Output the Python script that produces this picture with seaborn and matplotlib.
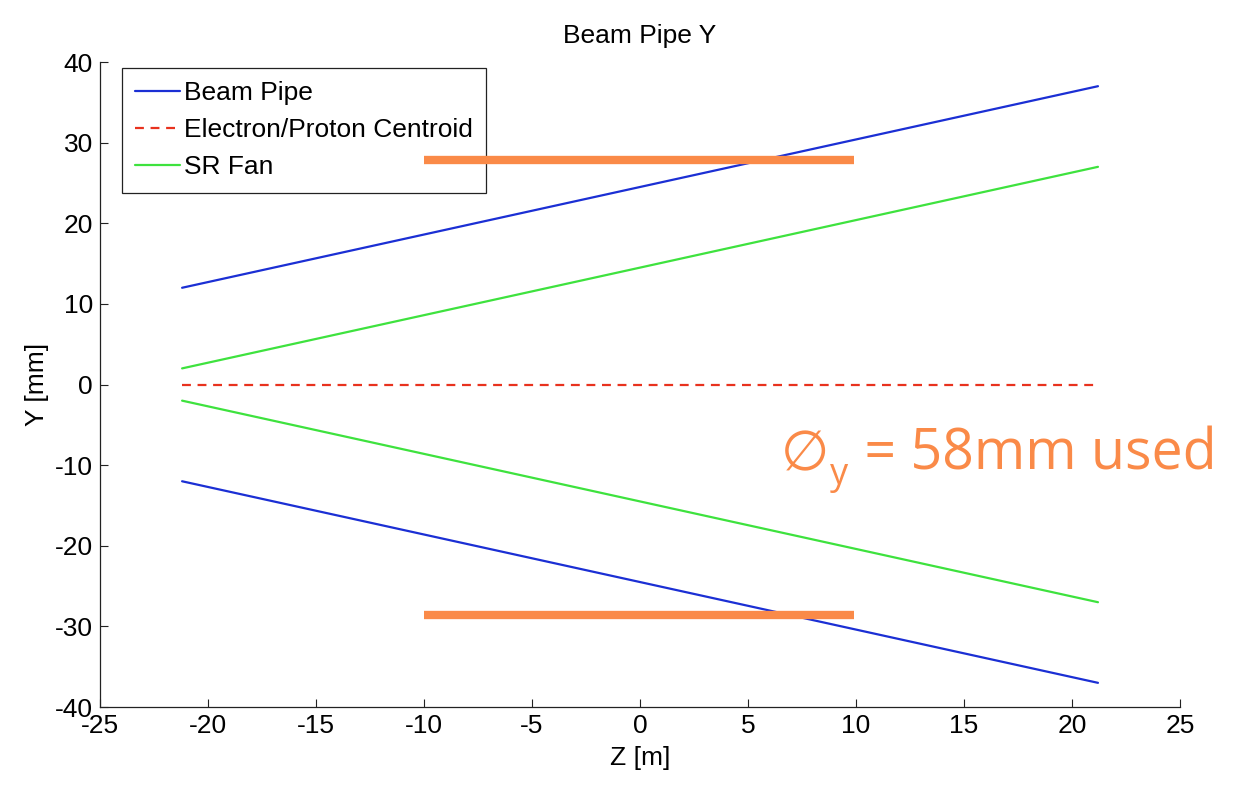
import numpy as np
import pandas as pd
import matplotlib
matplotlib.use("Agg")
import matplotlib.pyplot as plt
import seaborn as sns

# beam pipe / SR fan envelope
z_ends = [-21.2, 21.2]
pipe_up = [12.0, 37.0]
pipe_dn = [-12.0, -37.0]
fan_up = [2.0, 27.0]
fan_dn = [-2.0, -27.0]
centroid = [0.0, 0.0]

# orange aperture marks
ap_z = [-10.0, 9.9]
ap_top = [27.8, 27.8]
ap_bot = [-28.6, -28.6]

xticks = np.arange(-25, 26, 5)
yticks = np.arange(-40, 41, 10)

sns.set_theme(style="ticks")
plt.rcParams["font.family"] = ["Liberation Sans", "DejaVu Sans"]
plt.rcParams["xtick.direction"] = "in"
plt.rcParams["ytick.direction"] = "in"
plt.rcParams["axes.unicode_minus"] = False
plt.rcParams["text.color"] = "black"
plt.rcParams["axes.labelcolor"] = "black"
plt.rcParams["xtick.labelcolor"] = "black"
plt.rcParams["ytick.labelcolor"] = "black"

BLUE = "#1b2fd4"
RED = "#e8321e"
GREEN = "#3ee23e"
ORANGE = "#fa8a48"

fig = plt.figure(figsize=(12.44, 7.89), dpi=100)
ax = fig.add_axes([0.0804, 0.1039, 0.8682, 0.8175])

series = [
    ("Beam Pipe", [pipe_up, pipe_dn], BLUE, "-"),
    ("Electron/Proton Centroid", [centroid], RED, (0, (4, 3))),
    ("SR Fan", [fan_up, fan_dn], GREEN, "-"),
]
handles = []
for name, branches, col, ls in series:
    for i, yy in enumerate(branches):
        sns.lineplot(x=z_ends, y=yy, color=col, linestyle=ls, lw=1.6, ax=ax,
                     label=name if i == 0 else None, legend=False)
    handles.append(ax.lines[-1])

for yy in (ap_top, ap_bot):
    sns.lineplot(x=ap_z, y=yy, color=ORANGE, lw=6, ax=ax, legend=False,
                 solid_capstyle="butt", zorder=6)

ax.set_xlim(-25, 25)
ax.set_ylim(-40, 40)
ax.set_xticks(xticks)
ax.set_yticks(yticks)
ax.tick_params(labelsize=19, length=6, width=0.8, color="#222222", pad=5)
sns.despine(ax=ax)
for s in ("left", "bottom"):
    ax.spines[s].set_color("#222222")
    ax.spines[s].set_linewidth(0.9)

ax.set_title("Beam Pipe Y", fontsize=19, pad=14)
ax.set_xlabel("Z [m]", fontsize=19, labelpad=6)
ax.set_ylabel("Y [mm]", fontsize=19, labelpad=4)

leg = ax.legend(handles, [s[0] for s in series], loc="upper left",
                bbox_to_anchor=(0.02, 0.991), borderaxespad=0, fontsize=19,
                fancybox=False, framealpha=1, edgecolor="#222222",
                handlelength=1.7, handletextpad=0.15, labelspacing=0.5,
                borderpad=0.5)
leg.get_frame().set_linewidth(0.9)

# annotation: diameter sign, subscript y, then the rest
fig.canvas.draw()
r = fig.canvas.get_renderer()
fam = ["Open Sans", "DejaVu Sans"]
x0, y0 = 6.5, -10.6
t1 = ax.text(x0, y0, "\u2205", fontsize=40, color=ORANGE, family=["DejaVu Sans"],
             ha="left", va="baseline")
w1 = t1.get_window_extent(r).width * 72 / fig.dpi
t2 = ax.annotate("y", (x0, y0), xytext=(w1 + 1, -10), textcoords="offset points",
                 fontsize=26, color=ORANGE, family=fam, ha="left", va="baseline")
w2 = t2.get_window_extent(r).width * 72 / fig.dpi
ax.annotate(" = 58mm used", (x0, y0), xytext=(w1 + w2 + 2, 0),
            textcoords="offset points", fontsize=40, color=ORANGE, family=fam,
            ha="left", va="baseline")

fig.savefig("out.png", dpi=100)
